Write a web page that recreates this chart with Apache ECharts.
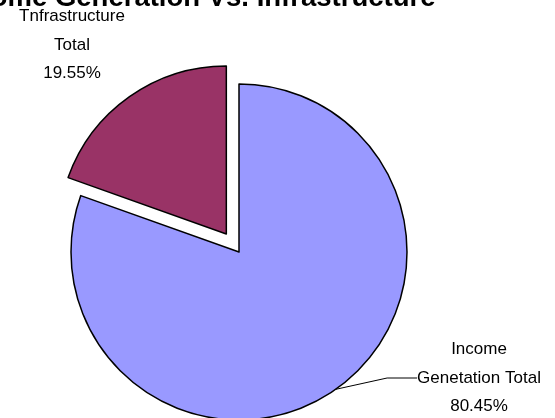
<!DOCTYPE html>
<html>
<head>
<meta charset="utf-8">
<script src="https://cdn.jsdelivr.net/npm/echarts@6/dist/echarts.min.js"></script>
<style>
  html, body { margin: 0; padding: 0; background: #fff; }
  #chart { width: 555px; height: 418px; }
</style>
</head>
<body>
<div id="chart"></div>
<script>
// slice names and shares (%)
var names = ['Income\nGenetation Total', 'Tnfrastructure\nTotal'];
var shares = [80.45, 19.55];
var colors = ['#9999FF', '#993366'];
// label block centres
var labelPos = [[479, 378], [72, 45]];

var center = [239, 252];
var explode = 22; // pulled-out distance of the small slice

var chart = echarts.init(document.getElementById('chart'));

// direction of the middle of the exploded slice (clockwise from 12 o'clock)
var total = shares[0] + shares[1];
var mid = (shares[0] + shares[1] / 2) / total * 2 * Math.PI;
var center2 = [center[0] + explode * Math.sin(mid), center[1] - explode * Math.cos(mid)];

var labelStyle = {
  show: true,
  formatter: function (p) { return p.name + '\n' + p.value.toFixed(2) + '%'; },
  fontFamily: 'Arial, Liberation Sans',
  fontSize: 17,
  lineHeight: 28.5,
  color: '#000',
  align: 'center',
  verticalAlign: 'middle',
  overflow: 'none'
};

// one series per visible slice; the other slice is kept as an invisible spacer
function sliceData(visible) {
  return names.map(function (n, i) {
    var on = i === visible;
    return {
      name: n,
      value: shares[i],
      itemStyle: on ? { color: colors[i] } : { color: 'rgba(0,0,0,0)', borderWidth: 0 },
      label: { show: on },
      labelLine: { show: on && i === 0 }
    };
  });
}

function pieSeries(idx, c) {
  return {
    type: 'pie',
    center: c,
    radius: 168,
    startAngle: 90,
    clockwise: true,
    silent: true,
    avoidLabelOverlap: false,
    emphasis: { disabled: true },
    itemStyle: { borderColor: '#000', borderWidth: 1.5 },
    label: labelStyle,
    labelLine: { show: true, lineStyle: { color: '#000', width: 1 } },
    labelLayout: function (p) {
      var q = labelPos[p.dataIndex];
      return { x: q[0], y: q[1], align: 'center', verticalAlign: 'middle' };
    },
    data: sliceData(idx)
  };
}

var option = {
  animation: false,
  title: {
    text: 'Income Generation Vs. Infrastructure',
    left: -49,
    top: -16,
    padding: 0,
    textStyle: { fontFamily: 'Arial, Liberation Sans', fontSize: 27.5, fontWeight: 'bold', color: '#000' }
  },
  series: [pieSeries(0, center), pieSeries(1, center2)]
};

chart.setOption(option);
</script>
</body>
</html>
